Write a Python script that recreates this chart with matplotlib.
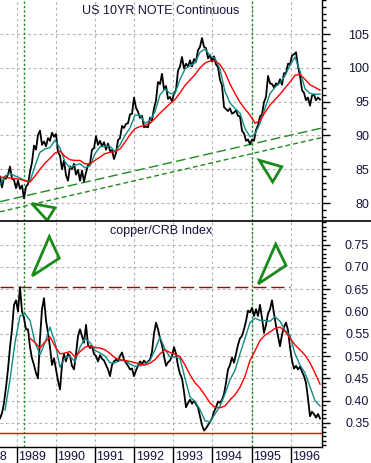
import numpy as np
import matplotlib
matplotlib.use("Agg")
import matplotlib.pyplot as plt
from matplotlib.lines import Line2D
from matplotlib.ticker import MultipleLocator

# ---- data (decimal years / prices) ----
t_start, t_end = 1988.573, 1996.749      # span of the price series
years = [1988, 1989, 1990, 1991, 1992, 1993, 1994, 1995, 1996]

note_close = [
    83.9, 82.3, 83.8, 83.6, 84.2, 85.4, 83.6, 83.4, 82.2, 83.3, 82.1, 82.6, 80.7, 82.4, 82.8, 84.6,
    86.0, 88.5, 87.9, 90.1, 90.7, 88.6, 89.1, 88.4, 89.6, 89.2, 90.4, 89.8, 90.2, 87.6, 87.0, 85.0,
    86.3, 84.1, 83.3, 85.4, 85.0, 85.8, 84.2, 84.9, 83.3, 84.8, 83.2, 84.5, 85.6, 85.8, 87.9, 88.1,
    89.9, 88.6, 89.2, 88.4, 89.0, 87.9, 88.8, 87.7, 87.8, 86.5, 87.4, 89.3, 89.6, 91.4, 91.1, 91.7,
    91.8, 93.1, 93.2, 95.6, 94.1, 93.5, 92.6, 92.9, 91.2, 91.3, 91.2, 92.6, 92.2, 94.0, 95.2, 97.9,
    97.6, 99.1, 96.8, 97.3, 95.4, 95.7, 95.0, 96.2, 96.7, 99.6, 100.2, 101.6, 99.9, 100.6, 100.2, 101.1,
    100.2, 101.3, 100.9, 102.6, 103.1, 104.4, 103.1, 102.9, 101.4, 101.9, 100.9, 101.7, 100.5, 100.1, 98.2, 97.4,
    94.2, 93.9, 93.6, 94.0, 93.2, 93.4, 93.7, 92.9, 92.8, 90.7, 90.3, 89.2, 89.4, 88.7, 89.4, 89.2,
    90.8, 91.5, 92.8, 93.1, 94.9, 95.7, 98.8, 97.7, 97.6, 97.1, 97.7, 97.5, 98.3, 97.5, 99.2, 99.2,
    100.6, 100.5, 101.8, 102.0, 102.3, 100.2, 98.8, 96.7, 96.3, 95.2, 95.6, 94.4, 95.9, 96.0, 95.2, 95.6,
    95.3]
note_fast = [
    82.6, 84.0, 84.4, 84.0, 83.7, 83.3, 83.2, 85.5, 87.5, 88.0, 88.2, 89.3, 88.1, 86.1, 85.2, 85.6,
    85.8, 85.2, 85.5, 87.3, 88.3, 88.4, 88.4, 87.6, 88.6, 90.0, 91.1, 93.0, 93.0, 91.8, 92.2, 93.5,
    96.0, 96.9, 96.2, 96.2, 98.3, 99.8, 100.3, 100.7, 102.3, 102.8, 101.8, 101.4, 99.8, 96.5, 94.8, 94.0,
    93.3, 91.0, 89.8, 90.2, 91.8, 94.0, 96.2, 97.1, 97.8, 98.8, 100.4, 101.6, 99.5, 96.9, 96.2, 96.1,
    96.1]
note_slow = [
    83.8, 83.8, 83.7, 83.6, 83.5, 83.3, 83.1, 84.0, 85.0, 85.9, 86.6, 87.4, 87.7, 86.9, 86.4, 86.3,
    86.3, 85.8, 85.8, 86.3, 86.8, 87.3, 87.5, 87.6, 88.0, 89.0, 90.1, 91.0, 91.3, 91.5, 91.8, 92.5,
    93.3, 94.0, 94.7, 95.3, 96.3, 97.4, 98.2, 99.0, 100.0, 100.7, 101.0, 101.0, 100.5, 99.3, 97.6, 96.2,
    94.9, 93.9, 93.0, 91.8, 92.2, 93.4, 94.5, 95.3, 96.1, 97.0, 97.9, 98.9, 99.0, 98.3, 97.5, 97.1,
    96.7]

ratio_close = [
    0.360, 0.372, 0.395, 0.430, 0.470, 0.520, 0.560, 0.615, 0.625, 0.600, 0.655, 0.600, 0.585, 0.560, 0.560, 0.520,
    0.495, 0.480, 0.462, 0.450, 0.540, 0.605, 0.630, 0.580, 0.552, 0.520, 0.480, 0.495, 0.470, 0.445, 0.425, 0.480,
    0.505, 0.488, 0.505, 0.500, 0.478, 0.470, 0.505, 0.545, 0.560, 0.545, 0.530, 0.570, 0.525, 0.518, 0.522, 0.505,
    0.500, 0.488, 0.502, 0.494, 0.490, 0.480, 0.470, 0.455, 0.480, 0.488, 0.492, 0.488, 0.500, 0.508, 0.492, 0.485,
    0.478, 0.470, 0.472, 0.455, 0.468, 0.478, 0.488, 0.482, 0.490, 0.484, 0.488, 0.492, 0.510, 0.550, 0.575, 0.560,
    0.540, 0.525, 0.500, 0.478, 0.486, 0.490, 0.500, 0.520, 0.505, 0.478, 0.460, 0.450, 0.420, 0.385, 0.395, 0.402,
    0.393, 0.400, 0.392, 0.385, 0.365, 0.345, 0.333, 0.338, 0.345, 0.352, 0.360, 0.375, 0.385, 0.398, 0.395, 0.402,
    0.415, 0.440, 0.470, 0.480, 0.497, 0.485, 0.505, 0.525, 0.540, 0.545, 0.560, 0.578, 0.602, 0.598, 0.608, 0.590,
    0.605, 0.590, 0.615, 0.585, 0.552, 0.570, 0.595, 0.605, 0.625, 0.595, 0.568, 0.545, 0.522, 0.548, 0.565, 0.575,
    0.558, 0.520, 0.490, 0.472, 0.478, 0.470, 0.476, 0.465, 0.455, 0.440, 0.405, 0.365, 0.375, 0.370, 0.362, 0.370,
    0.360]
ratio_fast = [
    0.379, 0.447, 0.530, 0.590, 0.595, 0.580, 0.530, 0.503, 0.530, 0.565, 0.530, 0.475, 0.496, 0.500, 0.487, 0.520,
    0.540, 0.530, 0.513, 0.507, 0.500, 0.485, 0.485, 0.490, 0.490, 0.482, 0.477, 0.478, 0.482, 0.490, 0.514, 0.543,
    0.515, 0.498, 0.498, 0.495, 0.450, 0.408, 0.398, 0.380, 0.355, 0.352, 0.370, 0.388, 0.415, 0.447, 0.468, 0.505,
    0.540, 0.575, 0.585, 0.580, 0.580, 0.578, 0.588, 0.578, 0.558, 0.546, 0.505, 0.480, 0.462, 0.431, 0.400, 0.388]
ratio_fast_start = 1988.701
ratio_slow = [
    0.540, 0.530, 0.518, 0.532, 0.543, 0.522, 0.505, 0.507, 0.510, 0.498, 0.510, 0.520, 0.523, 0.519, 0.518, 0.514,
    0.506, 0.496, 0.492, 0.490, 0.488, 0.485, 0.482, 0.480, 0.484, 0.492, 0.505, 0.514, 0.508, 0.504, 0.499, 0.480,
    0.458, 0.440, 0.428, 0.412, 0.395, 0.385, 0.384, 0.388, 0.402, 0.413, 0.430, 0.455, 0.490, 0.512, 0.535, 0.547,
    0.554, 0.562, 0.565, 0.556, 0.540, 0.525, 0.514, 0.502, 0.485, 0.462, 0.437]
ratio_slow_start = 1989.340

# annotations
marker_dates = [1989.194, 1995.02]           # green vertical lines
trend_upper = [80.2, 91.1]                    # at left / right edge
trend_lower = [78.7, 89.7]
ratio_ceiling = 0.655
ratio_floor = 0.328
tri_top = [[(1989.383, 79.93), (1989.978, 79.29), (1989.779, 77.44)],
           [(1995.198, 86.32), (1995.770, 85.37), (1995.540, 83.11)]]
tri_bot = [[(1989.833, 0.768), (1990.088, 0.7195), (1989.398, 0.6798)],
           [(1995.617, 0.751), (1995.880, 0.7034), (1995.172, 0.6619)]]

# ---- figure ----
plt.rcParams['font.family'] = ['Liberation Sans', 'DejaVu Sans']
W, H = 371, 463
fig = plt.figure(figsize=(W / 100, H / 100), dpi=100)
ax1 = fig.add_axes([0, 1 - 221 / H, 322 / W, 221 / H])
ax2 = fig.add_axes([0, 1 - 447 / H, 322 / W, 226 / H])

xlim = (1988.573, 1996.80)
txt_col = '#14143c'
grid_kw = dict(color='#b4b4b4', lw=0.8, dashes=(2.5, 2.5))
green = '#1e8c1e'
teal = '#138a86'

for ax in (ax1, ax2):
    ax.set_xlim(*xlim)
    for s in ('left', 'top', 'bottom'):
        ax.spines[s].set_visible(False)
    ax.spines['right'].set_linewidth(1.0)
    ax.yaxis.tick_right()
    ax.tick_params(axis='y', which='major', length=6, width=1, direction='out',
                   pad=28, labelsize=9, labelcolor=txt_col)
    ax.tick_params(axis='y', which='minor', length=3, width=1, direction='out')
    ax.set_xticks(years[1:])
    for yr in years[1:]:
        ax.axvline(yr, zorder=0, **grid_kw)
    for d in marker_dates:
        ax.axvline(d, color='#1a8a1a', lw=1, dashes=(1.6, 1.6), zorder=1)

ax1.tick_params(axis='x', length=0, labelbottom=False)
ax2.spines['bottom'].set_visible(True)
ax2.spines['bottom'].set_linewidth(1.0)
ax2.tick_params(axis='x', length=12, width=1, direction='out', labelbottom=False)

# top panel
ax1.set_ylim(77.34, 110.03)
ax1.yaxis.set_minor_locator(MultipleLocator(1))
ax1.set_yticks([80, 85, 90, 95, 100, 105])
for v in [80, 85, 90, 95, 100, 105]:
    ax1.axhline(v, zorder=0, **grid_kw)
t = np.linspace(t_start, t_end, len(note_close))
ax1.plot(t, note_close, color='black', lw=1.3, zorder=3)
ax1.plot(np.linspace(t_start, t_end, len(note_fast)), note_fast, color=teal, lw=1.0, zorder=4)
ax1.plot(np.linspace(t_start, t_end, len(note_slow)), note_slow, color='red', lw=1.0, zorder=5)
ax1.plot(xlim, trend_upper, color=green, lw=1.0, dashes=(7, 3), zorder=2)
ax1.plot(xlim, trend_lower, color=green, lw=1.0, dashes=(3.5, 2.2), zorder=2)
for tri in tri_top:
    ax1.add_patch(plt.Polygon(tri, closed=True, fill=False, ec='#1a8a1a', lw=2, clip_on=False, zorder=6))
ax1.text(0.5, 0.95, 'US 10YR NOTE Continuous', transform=ax1.transAxes,
         ha='center', va='center', fontsize=9, color=txt_col)

# bottom panel
ax2.set_ylim(0.296, 0.803)
ax2.yaxis.set_minor_locator(MultipleLocator(0.01))
ticks2 = [0.35, 0.40, 0.45, 0.50, 0.55, 0.60, 0.65, 0.70, 0.75]
ax2.set_yticks(ticks2)
ax2.set_yticklabels(['%.2f' % v for v in ticks2])
for v in ticks2:
    ax2.axhline(v, zorder=0, **grid_kw)
ax2.plot(t, ratio_close, color='black', lw=1.3, zorder=3)
ax2.plot(np.linspace(ratio_fast_start, t_end, len(ratio_fast)), ratio_fast, color=teal, lw=1.0, zorder=4)
ax2.plot(np.linspace(ratio_slow_start, t_end, len(ratio_slow)), ratio_slow, color='red', lw=1.0, zorder=5)
ax2.plot([xlim[0], 1995.98], [ratio_ceiling, ratio_ceiling], color='#8b1010', lw=1.0,
         dashes=(9.5, 3.5), zorder=2)
ax2.axhline(ratio_floor, color='red', lw=1.0, zorder=2)
for tri in tri_bot:
    ax2.add_patch(plt.Polygon(tri, closed=True, fill=False, ec='#1a8a1a', lw=2, zorder=6))
ax2.text(0.5, 0.955, 'copper/CRB Index', transform=ax2.transAxes,
         ha='center', va='center', fontsize=9, color=txt_col)

# right-align the price labels
for ax in (ax1, ax2):
    for lab in ax.get_yticklabels():
        lab.set_horizontalalignment('right')

# year labels sit just right of each year tick
for yr in years:
    ax2.text(yr + 0.04, -0.043, str(yr), transform=ax2.get_xaxis_transform(),
             ha='left', va='center', fontsize=9, color=txt_col, clip_on=False)

# divider between the panels
fig.add_artist(Line2D([0, 1], [1 - 221 / H, 1 - 221 / H], color='black', lw=1.2))

fig.savefig('out.png', dpi=100)
